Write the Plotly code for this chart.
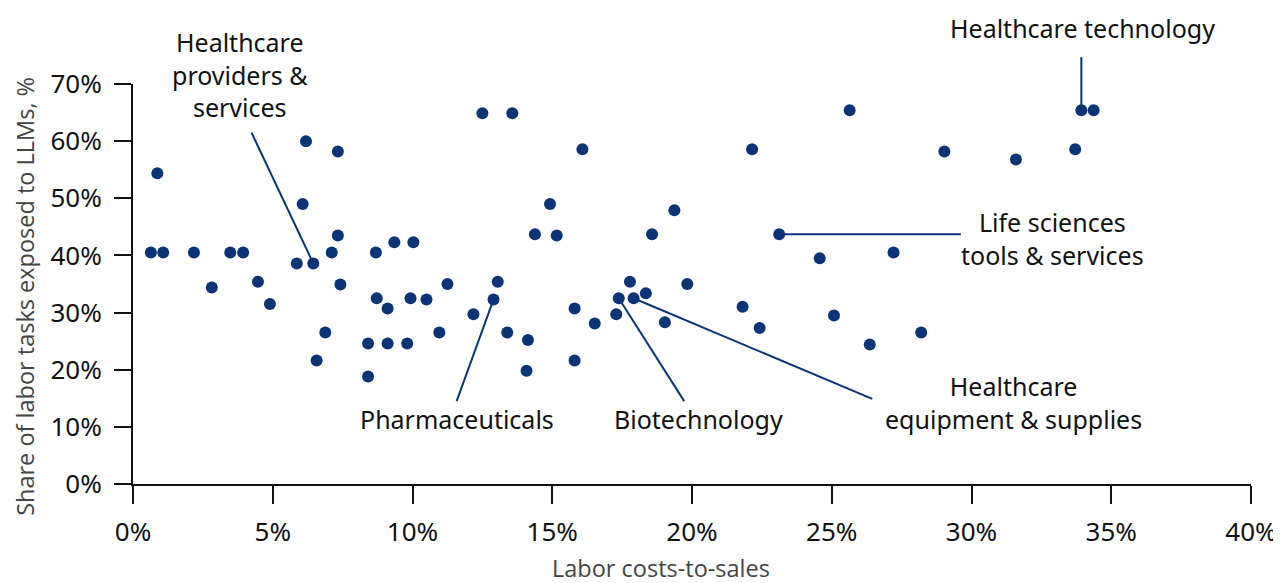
import plotly.graph_objects as go

# labor costs-to-sales (%) vs share of labor tasks exposed to LLMs (%)
labor_cost = [0.64, 0.87, 1.08, 2.18, 2.82, 3.48, 3.94, 4.47, 4.90, 5.86,
              6.07, 6.19, 6.45, 6.57, 6.88, 7.11, 7.33, 7.33, 7.42, 8.41,
              8.41, 8.69, 8.72, 9.11, 9.11, 9.35, 9.81, 9.93, 10.03, 10.50,
              10.96, 11.25, 12.18, 12.50, 12.90, 13.05, 13.39, 13.57, 14.08, 14.13,
              14.38, 14.92, 15.16, 15.80, 15.80, 16.08, 16.52, 17.29, 17.38, 17.78,
              17.91, 18.35, 18.57, 19.03, 19.37, 19.83, 21.81, 22.15, 22.42, 23.12,
              24.57, 25.08, 25.64, 26.36, 27.21, 28.20, 29.03, 31.59, 33.71, 33.93,
              34.37]
llm_share = [40.5, 54.4, 40.5, 40.5, 34.4, 40.5, 40.5, 35.4, 31.5, 38.6,
             49.0, 60.0, 38.6, 21.6, 26.5, 40.5, 58.2, 43.5, 34.9, 24.6,
             18.8, 40.5, 32.5, 30.7, 24.6, 42.3, 24.6, 32.5, 42.3, 32.3,
             26.5, 35.0, 29.7, 64.9, 32.3, 35.4, 26.5, 64.9, 19.8, 25.2,
             43.7, 49.0, 43.5, 30.7, 21.6, 58.6, 28.1, 29.7, 32.5, 35.4,
             32.5, 33.4, 43.7, 28.3, 47.9, 35.0, 31.0, 58.6, 27.3, 43.7,
             39.5, 29.5, 65.4, 24.4, 40.5, 26.5, 58.2, 56.8, 58.6, 65.4,
             65.4]

# labelled sub-industries: text, index of the point it points to
labels = ['Healthcare<br>providers &<br>services', 'Pharmaceuticals', 'Biotechnology',
          'Healthcare<br>equipment & supplies', 'Life sciences<br>tools & services',
          'Healthcare technology']
label_idx = [12, 34, 48, 50, 59, 69]

X_MAX = 40
Y_MAX = 70

navy = '#0b3476'
font_family = 'Noto Sans, Liberation Sans, sans-serif'

# label text position and leader line start (in axis units)
text_pos = [(3.83, 71.6), (11.59, 11.3), (20.22, 11.3), (31.5, 14.2), (32.9, 42.9), (33.96, 79.8)]
line_start = [(4.24, 61.5), (11.58, 14.5), (19.72, 14.5), (26.45, 14.9), (29.62, 43.7), (33.93, 74.7)]


# paper coords so labels above the 70% line aren't hidden/clipped
def px(v):
    return v / X_MAX


def py(v):
    return v / Y_MAX


fig = go.Figure()
fig.add_trace(go.Scatter(
    x=labor_cost, y=llm_share, mode='markers',
    marker=dict(color=navy, size=12, line=dict(width=0)),
    showlegend=False, cliponaxis=False))

shapes = []
annotations = []
for i, lab in enumerate(labels):
    p = label_idx[i]
    shapes.append(dict(type='line', xref='paper', yref='paper',
                       x0=px(line_start[i][0]), y0=py(line_start[i][1]),
                       x1=px(labor_cost[p]), y1=py(llm_share[p]),
                       line=dict(color=navy, width=2), layer='below'))
    annotations.append(dict(x=px(text_pos[i][0]), y=py(text_pos[i][1]),
                            xref='paper', yref='paper',
                            xanchor='center', yanchor='middle',
                            text=lab, showarrow=False,
                            font=dict(family=font_family, size=25, color='#111')))

# axis titles
annotations.append(dict(x=0.472, y=-0.209, xref='paper', yref='paper',
                        text='Labor costs-to-sales', showarrow=False,
                        xanchor='center', yanchor='middle',
                        font=dict(family='Open Sans, sans-serif', size=23.5, color='#444')))
annotations.append(dict(x=-0.0962, y=0.469, xref='paper', yref='paper',
                        text='Share of labor tasks exposed to LLMs, %', showarrow=False,
                        textangle=-90, xanchor='center', yanchor='middle',
                        font=dict(family='Open Sans, sans-serif', size=23.5, color='#444')))

# page body has an 8px margin, so the figure is 8px smaller than the window
fig.update_layout(
    width=1273, height=575,
    margin=dict(l=125, r=30, t=76, b=99),
    plot_bgcolor='white', paper_bgcolor='white',
    shapes=shapes, annotations=annotations,
    font=dict(family=font_family, size=26, color='#111'),
    xaxis=dict(range=[0, X_MAX], dtick=5, ticksuffix='%', showgrid=False, zeroline=False,
               showline=True, linecolor='#111', linewidth=2, automargin=False,
               ticks='outside', ticklen=18, tickwidth=2, tickcolor='#111',
               ticklabelstandoff=6),
    yaxis=dict(range=[0, Y_MAX], dtick=10, ticksuffix='%', showgrid=False, zeroline=False,
               showline=True, linecolor='#111', linewidth=2, automargin=False,
               ticks='outside', ticklen=17, tickwidth=2, tickcolor='#111',
               ticklabelstandoff=7),
)

fig.write_html("out.html")
